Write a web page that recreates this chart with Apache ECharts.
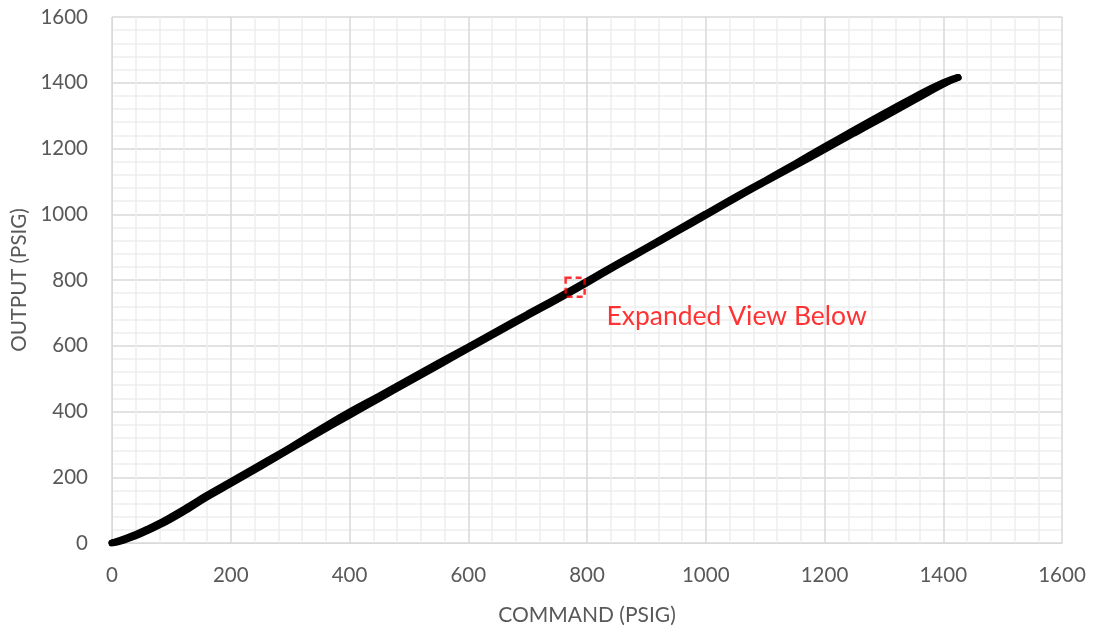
<!DOCTYPE html>
<html><head><meta charset="utf-8">
<script src="https://cdn.jsdelivr.net/npm/echarts@6/dist/echarts.min.js"></script>
<style>html,body{margin:0;padding:0;background:#fff}#c{width:1094px;height:631px}</style>
</head><body><div id="c"></div>
<script>
const upCommand = [0, 20, 40, 60, 80, 100, 130, 160, 200, 250, 300, 350, 400, 450, 500, 550, 600, 650, 700, 750, 800, 850, 900, 950, 1000, 1050, 1100, 1150, 1200, 1250, 1300, 1350, 1400, 1425];
const upOutput  = [0, 12, 26, 42, 60, 80, 112, 145, 186, 238, 290, 345, 398, 447, 497, 547, 596, 646, 696, 745, 796, 848, 898, 950, 1001, 1052, 1102, 1153, 1205, 1256, 1306, 1355, 1400, 1416];
const downCommand = [1425, 1400, 1350, 1300, 1250, 1200, 1150, 1100, 1050, 1000, 950, 900, 850, 800, 750, 700, 650, 600, 550, 500, 450, 400, 350, 300, 250, 200, 160, 130, 100, 80, 60, 40, 20, 0];
const downOutput  = [1416, 1396, 1346, 1296, 1247, 1197, 1148, 1099, 1049, 997, 946, 895, 844, 792, 741, 692, 642, 592, 541, 491, 440, 389, 338, 286, 233, 181, 140, 106, 74, 55, 38, 22, 9, 0];
const boxPoint = [[780, 778]];
const xTicks = [0, 200, 400, 600, 800, 1000, 1200, 1400, 1600];
const yTicks = [0, 200, 400, 600, 800, 1000, 1200, 1400, 1600];
const annotation = 'Expanded View Below';

const zip = (a, b) => a.map((v, i) => [v, b[i]]);
const chart = echarts.init(document.getElementById('c'));
const font = 'Lato, "Open Sans", sans-serif';
chart.setOption({
  animation: false,
  grid: {left: 112, right: 32, top: 17, bottom: 83},
  xAxis: {
    type: 'value', min: xTicks[0], max: xTicks[xTicks.length-1], interval: 200,
    name: 'COMMAND (PSIG)', nameLocation: 'middle', nameGap: 62,
    nameTextStyle: {color: '#595959', fontSize: 21, fontFamily: font},
    axisLine: {show: true, lineStyle: {color: '#d9d9d9'}},
    axisTick: {show: false},
    axisLabel: {color: '#595959', fontSize: 20.5, fontFamily: font, margin: 22, formatter: v => String(v)},
    splitLine: {show: true, lineStyle: {color: '#d9d9d9', width: 1.5}},
    minorTick: {show: false, splitNumber: 5},
    minorSplitLine: {show: true, lineStyle: {color: '#eeeeee', width: 1.5}}
  },
  yAxis: {
    type: 'value', min: yTicks[0], max: yTicks[yTicks.length-1], interval: 200,
    name: 'OUTPUT (PSIG)', nameLocation: 'middle', nameGap: 82, nameRotate: 90,
    nameTextStyle: {color: '#595959', fontSize: 20.5, fontFamily: font},
    axisLine: {show: true, lineStyle: {color: '#d9d9d9'}},
    axisTick: {show: false},
    axisLabel: {color: '#595959', fontSize: 20.5, fontFamily: font, margin: 24, formatter: v => String(v)},
    splitLine: {show: true, lineStyle: {color: '#d9d9d9', width: 1.5}},
    minorTick: {show: false, splitNumber: 5},
    minorSplitLine: {show: true, lineStyle: {color: '#eeeeee', width: 1.5}}
  },
  series: [
    {type: 'line', data: zip(upCommand, upOutput), smooth: true, showSymbol: false,
     lineStyle: {color: '#000', width: 7, cap: 'round'}},
    {type: 'line', data: zip(downCommand, downOutput), smooth: true, showSymbol: false,
     lineStyle: {color: '#000', width: 7, cap: 'round'}},
    {type: 'scatter', data: boxPoint, symbol: 'rect', symbolSize: 19, z: 5,
     itemStyle: {color: 'rgba(0,0,0,0)', borderColor: '#ff0000', borderWidth: 2.5, borderType: [6, 4]},
     label: {show: true, position: [42, 26], formatter: annotation, color: '#ff0000', fontSize: 26.5, fontFamily: font}}
  ]
});
</script></body></html>
